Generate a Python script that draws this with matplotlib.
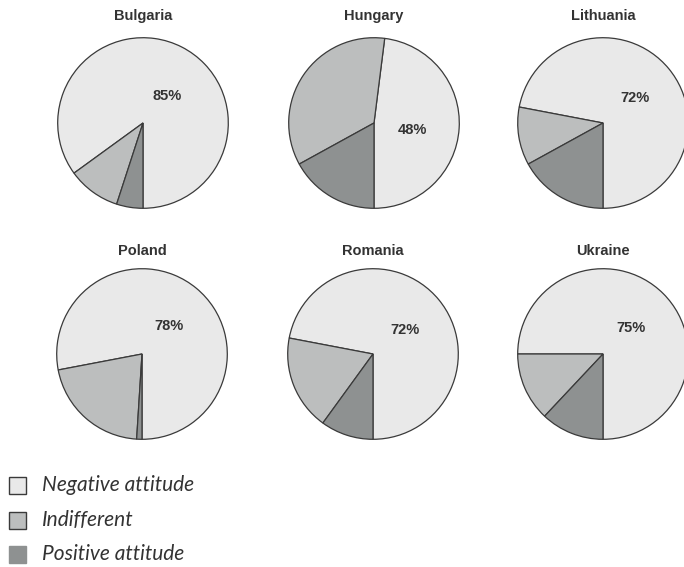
import matplotlib
matplotlib.use("Agg")
import matplotlib.pyplot as plt
from matplotlib.patches import Rectangle

countries = ["Bulgaria", "Hungary", "Lithuania", "Poland", "Romania", "Ukraine"]
negative = [85, 48, 72, 78, 72, 75]
indifferent = [10, 35, 11, 21, 18, 13]
positive = [5, 17, 17, 1, 10, 12]
categories = ["Negative attitude", "Indifferent", "Positive attitude"]

colors = ["#e9e9e9", "#bcbebe", "#8e9191"]
edge = "#3a3a3a"

W, H = 684, 567
fig = plt.figure(figsize=(W / 100, H / 100), dpi=100)
fig.patch.set_facecolor("white")

centers = [(143, 123), (374, 123), (603, 123), (142, 354), (373, 354), (603, 354)]
title_y = [16, 16, 16, 251, 251, 251]
R = 87
label_pos = [(0.28, 0.32), (0.45, -0.08), (0.37, 0.29), (0.32, 0.33), (0.37, 0.28), (0.33, 0.30)]

for i, c in enumerate(countries):
    cx, cy = centers[i]
    ax = fig.add_axes([(cx - R) / W, 1 - (cy + R) / H, 2 * R / W, 2 * R / H])
    ax.pie([negative[i], indifferent[i], positive[i]], colors=colors, startangle=-90,
           counterclock=True, radius=1,
           wedgeprops=dict(edgecolor=edge, linewidth=0.9))
    ax.set_xlim(-1.02, 1.02)
    ax.set_ylim(-1.02, 1.02)
    ax.set_aspect("equal")
    ax.axis("off")
    lx, ly = label_pos[i]
    ax.text(lx, ly, f"{negative[i]}%", ha="center", va="center", fontsize=10.5,
            fontweight="bold", color="#333333", family="Liberation Sans")
    fig.text(cx / W, 1 - title_y[i] / H, c, ha="center", va="center", fontsize=10.5,
             fontweight="bold", color="#333333", family="Liberation Sans")

# legend
leg_y = [485, 520, 554]
for j, name in enumerate(categories):
    y = leg_y[j]
    s = 17
    rect = Rectangle((9 / W, 1 - (y + s / 2) / H), s / W, s / H, transform=fig.transFigure,
                     facecolor=colors[j], edgecolor=edge if j < 2 else colors[j], linewidth=1.0)
    fig.add_artist(rect)
    fig.text(42 / W, 1 - y / H, name, ha="left", va="center", fontsize=15,
             style="italic", color="#333333", family="Lato")

fig.savefig("out.png", dpi=100, facecolor="white")
